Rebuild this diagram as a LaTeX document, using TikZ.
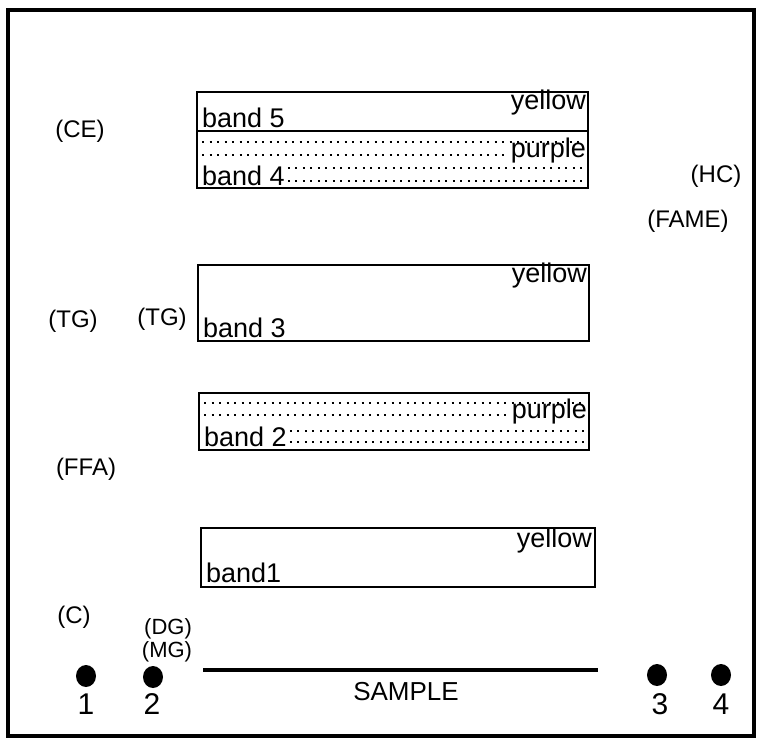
\documentclass[tikz,border=0pt]{standalone}
\usepackage{fontspec}
\setmainfont{Liberation Sans}
\usetikzlibrary{fit,shapes.geometric}
\begin{document}
\begin{tikzpicture}[x=1pt,y=-1pt,
  band/.style={draw,line width=2.6pt,rectangle,inner sep=0pt},
  dots/.style={line width=2pt,dash pattern=on 2pt off 5.5pt},
  lbl/.style={font=\fontsize{27}{29}\selectfont,inner sep=0pt},
  tag/.style={font=\fontsize{24}{26}\selectfont,inner sep=0pt},
  small/.style={font=\fontsize{22}{23}\selectfont,inner sep=0pt},
  num/.style={font=\fontsize{30}{32}\selectfont,inner sep=0pt},
  spot/.style={fill=black,ellipse,minimum width=20pt,minimum height=22pt,inner sep=0pt}
]
\useasboundingbox (0,0) rectangle (758,740);
\fill[white] (0,0) rectangle (758,740);
\draw[line width=4.5pt] (8,10) -- (754,10) -- (754,736) -- (8,736) -- cycle;

% band 5 / band 4 box
\coordinate (b54nw) at (197,92);
\coordinate (b54se) at (588,188);
\coordinate (divw) at (197,131);
\coordinate (dive) at (588,131);
\node[band,fit=(b54nw)(b54se)] (b54) {};
\draw[line width=2.6pt] (divw) -- (dive);
\node[lbl,anchor=base east] (y5) at (586,109) {yellow};
\node[lbl,anchor=base west] (t5) at (202,127) {band 5};
\node[lbl,anchor=base east] (p4) at (586,157) {purple};
\node[lbl,anchor=base west] (t4) at (202,185) {band 4};
\draw[dots] (202,142) -- (584,142);
\draw[dots] (202,155) -- ([xshift=-2pt]p4.west |- 0,155);
\draw[dots] ([xshift=3pt]t4.east |- 0,168) -- (584,168);
\draw[dots] ([xshift=3pt]t4.east |- 0,181) -- (584,181);

% band 3 box
\coordinate (b3nw) at (198,265);
\coordinate (b3se) at (589,341);
\node[band,fit=(b3nw)(b3se)] (b3) {};
\node[lbl,anchor=base east] (y3) at (587,282) {yellow};
\node[lbl,anchor=base west] (t3) at (203,337) {band 3};

% band 2 box
\coordinate (b2nw) at (199,393);
\coordinate (b2se) at (589,450);
\node[band,fit=(b2nw)(b2se)] (b2) {};
\node[lbl,anchor=base east] (p2) at (587,418) {purple};
\node[lbl,anchor=base west] (t2) at (204,446) {band 2};
\draw[dots] (204,403) -- (585,403);
\draw[dots] (204,415) -- ([xshift=-2pt]p2.west |- 0,415);
\draw[dots] ([xshift=3pt]t2.east |- 0,431) -- (585,431);
\draw[dots] ([xshift=3pt]t2.east |- 0,442) -- (585,442);

% band 1 box
\coordinate (b1nw) at (201,528);
\coordinate (b1se) at (595,587);
\node[band,fit=(b1nw)(b1se)] (b1) {};
\node[lbl,anchor=base east] (y1) at (592,547) {yellow};
\node[lbl,anchor=base west] (t1) at (206,582) {band1};

% tags
\node[tag] (ce) at (80,131) {(CE)};
\node[tag] (hc) at (716,176) {(HC)};
\node[tag] (fame) at (688,221) {(FAME)};
\node[tag] (tg1) at (73,321) {(TG)};
\node[tag] (tg2) at (162,319) {(TG)};
\node[tag] (ffa) at (86,469) {(FFA)};
\node[tag] (c) at (74,617) {(C)};
\node[small] (dg) at (168,629) {(DG)};
\node[small] (mg) at (167,652) {(MG)};

% sample line and spots
\coordinate (sw) at (203,670);
\coordinate (se) at (598,670);
\draw[line width=4.5pt] (sw) -- (se);
\node[spot] (s1) at (86,676) {};
\node[spot] (s2) at (153,677) {};
\node[spot] (s3) at (657,675) {};
\node[spot] (s4) at (721,675) {};
\node[num] (n1) at (86,704) {1};
\node[num] (n2) at (152,704) {2};
\node[num] (n3) at (660,704) {3};
\node[num] (n4) at (721,704) {4};
\node[tag,font=\fontsize{26}{28}\selectfont] (smp) at (406,692) {SAMPLE};
\end{tikzpicture}
\end{document}
